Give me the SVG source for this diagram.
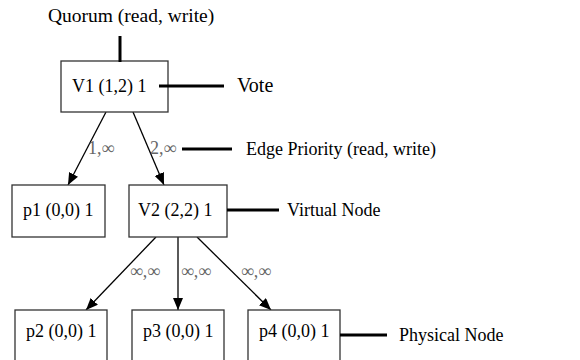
<svg xmlns="http://www.w3.org/2000/svg" width="580" height="360" viewBox="0 0 580 360">
<defs>
<marker id="ah" viewBox="0 0 12 10" refX="12" refY="5" markerWidth="12" markerHeight="10" markerUnits="userSpaceOnUse" orient="auto"><path d="M0,0 L12,5 L0,10 z" fill="#000"/></marker>
</defs>
<style>
text{font-family:"Liberation Serif","Times New Roman",serif;font-size:18px;fill:#000}
.box{fill:#fff;stroke:#333;stroke-width:1.3}
.edge{stroke:#000;stroke-width:1.3;fill:none;marker-end:url(#ah)}
.lbl{fill:#666}
.lead{stroke:#000;stroke-width:3}
</style>
<rect width="580" height="360" fill="#fff"/>
<g id="connectors">
<line class="edge" x1="106" y1="112" x2="68" y2="185"/>
<line class="edge" x1="133" y1="112" x2="164" y2="185"/>
<line class="edge" x1="156" y1="237" x2="86" y2="310"/>
<line class="edge" x1="178" y1="237" x2="178" y2="310"/>
<line class="edge" x1="197" y1="237" x2="271" y2="310"/>
<text class="lbl" x="88" y="154">1,∞</text>
<text class="lbl" x="150" y="154">2,∞</text>
<text class="lbl" x="130" y="277">∞,∞</text>
<text class="lbl" x="181" y="277">∞,∞</text>
<text class="lbl" x="241" y="277">∞,∞</text>
</g>
<g id="V1"><rect class="box" x="61" y="61" width="107" height="51"/><text x="72" y="92">V1 (1,2) 1</text></g>
<g id="p1"><rect class="box" x="12" y="185" width="93" height="52"/><text x="23" y="216">p1 (0,0) 1</text></g>
<g id="V2"><rect class="box" x="129" y="185" width="98" height="52"/><text x="138" y="216">V2 (2,2) 1</text></g>
<g id="p2"><rect class="box" x="15" y="310" width="92" height="60"/><text x="26" y="337">p2 (0,0) 1</text></g>
<g id="p3"><rect class="box" x="132" y="310" width="92" height="60"/><text x="143" y="337">p3 (0,0) 1</text></g>
<g id="p4"><rect class="box" x="248" y="310" width="92" height="60"/><text x="259" y="337">p4 (0,0) 1</text></g>
<g id="legend">
<text x="48" y="22" style="font-size:19.5px">Quorum (read, write)</text>
<line class="lead" x1="120" y1="36" x2="120" y2="62"/>
<line class="lead" x1="159" y1="86" x2="224" y2="86"/>
<text x="237" y="92" style="font-size:20px">Vote</text>
<line class="lead" x1="182" y1="149" x2="232" y2="149"/>
<text x="246" y="155">Edge Priority (read, write)</text>
<line class="lead" x1="227" y1="210" x2="279" y2="210"/>
<text x="287" y="216">Virtual Node</text>
<line class="lead" x1="340" y1="335" x2="387" y2="335"/>
<text x="399" y="341">Physical Node</text>
</g>
</svg>
